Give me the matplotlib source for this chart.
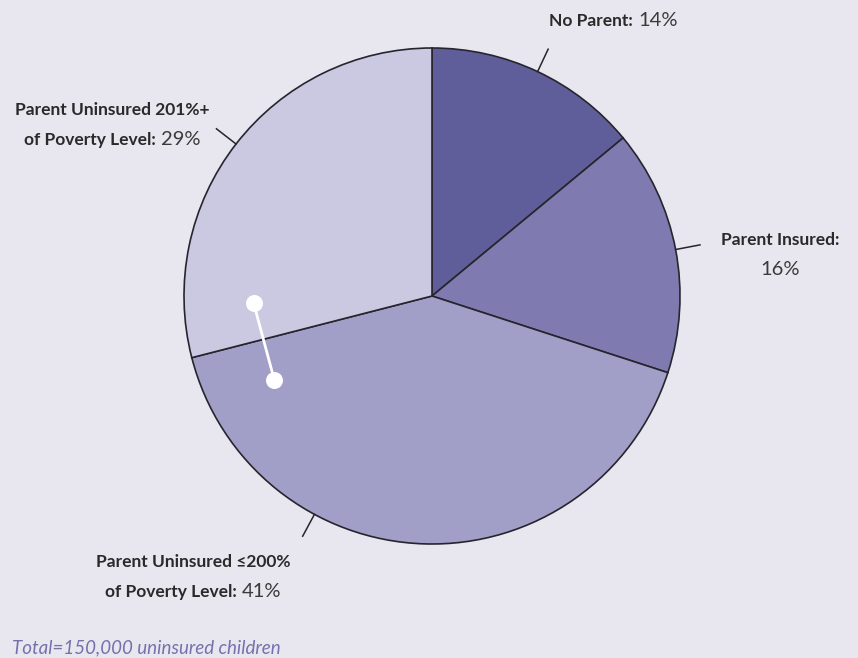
import numpy as np
import matplotlib
matplotlib.use("Agg")
import matplotlib.pyplot as plt
from matplotlib.offsetbox import TextArea, HPacker, VPacker, AnnotationBbox

# chart data (clockwise from 12 o'clock)
categories = ["No Parent", "Parent Insured", "Parent Uninsured \u2264200% of Poverty Level",
              "Parent Uninsured 201%+ of Poverty Level"]
shares = [14, 16, 41, 29]
colors = ["#605e9a", "#7f7bb0", "#a19ec8", "#cbc9e1"]

# label text: list of lines, each line is (bold part, regular part)
label_lines = [
    [("No Parent:", "14%")],
    [("Parent Insured:", ""), ("", "16%")],
    [("Parent Uninsured \u2264200%", ""), ("of Poverty Level:", "41%")],
    [("Parent Uninsured 201%+", ""), ("of Poverty Level:", "29%")],
]
label_pos = [(0.73, 1.109), (1.405, 0.165), (-0.964, -1.133), (-1.29, 0.69)]
leader_angles = [64.8, 10.8, 241.7, 142.2]
footnote = "Total=150,000 uninsured children"

bg = "#e8e7ef"
bold_font = ["Lato", "DejaVu Sans"]
reg_font = ["Lato", "DejaVu Sans"]

W, H = 858, 658
cx, cy, R = 432, 296, 248
fig = plt.figure(figsize=(W / 100, H / 100), dpi=100, facecolor=bg)
ax = fig.add_axes([0, 0, 1, 1])
ax.set_facecolor(bg)

ax.pie(shares, colors=colors, startangle=90, counterclock=False, radius=1,
       wedgeprops=dict(edgecolor="#26252e", linewidth=1.2))

ax.set_xlim(-cx / R, (W - cx) / R)
ax.set_ylim(-(H - cy) / R, cy / R)
ax.set_aspect("equal")
ax.axis("off")

# leader lines
for a in leader_angles:
    t = np.deg2rad(a)
    ax.plot([np.cos(t), 1.1 * np.cos(t)], [np.sin(t), 1.1 * np.sin(t)],
            color="#26252e", lw=1.1)

# labels with bold + regular parts
for lines, pos in zip(label_lines, label_pos):
    rows = []
    for b, r in lines:
        parts = []
        if b:
            parts.append(TextArea(b, textprops=dict(family=bold_font, weight="bold",
                                                    size=12.5, color="#2a2a2a")))
        if r:
            parts.append(TextArea(r, textprops=dict(family=reg_font, weight="normal",
                                                    size=14.5, color="#3a3a3a")))
        rows.append(HPacker(children=parts, align="baseline", pad=0, sep=4))
    box = VPacker(children=rows, align="center", pad=0, sep=9)
    ab = AnnotationBbox(box, pos, xycoords="data", frameon=False,
                        box_alignment=(0.5, 0.5))
    ax.add_artist(ab)

# white connector inside the two lower-left slices
dot_r = [0.72, 0.72]
dot_a = np.deg2rad([182.2, 207.9])
dx = np.array(dot_r) * np.cos(dot_a)
dy = np.array(dot_r) * np.sin(dot_a)
ax.plot(dx, dy, color="white", lw=2, solid_capstyle="round")
ax.scatter(dx, dy, s=150, color="white", zorder=5, linewidths=0)

fig.text(12 / W, 1 - 648 / H, footnote, family=reg_font, style="italic", size=13.5,
         color="#7471ad", va="center", ha="left")

fig.savefig("out.png", dpi=100, facecolor=bg)
